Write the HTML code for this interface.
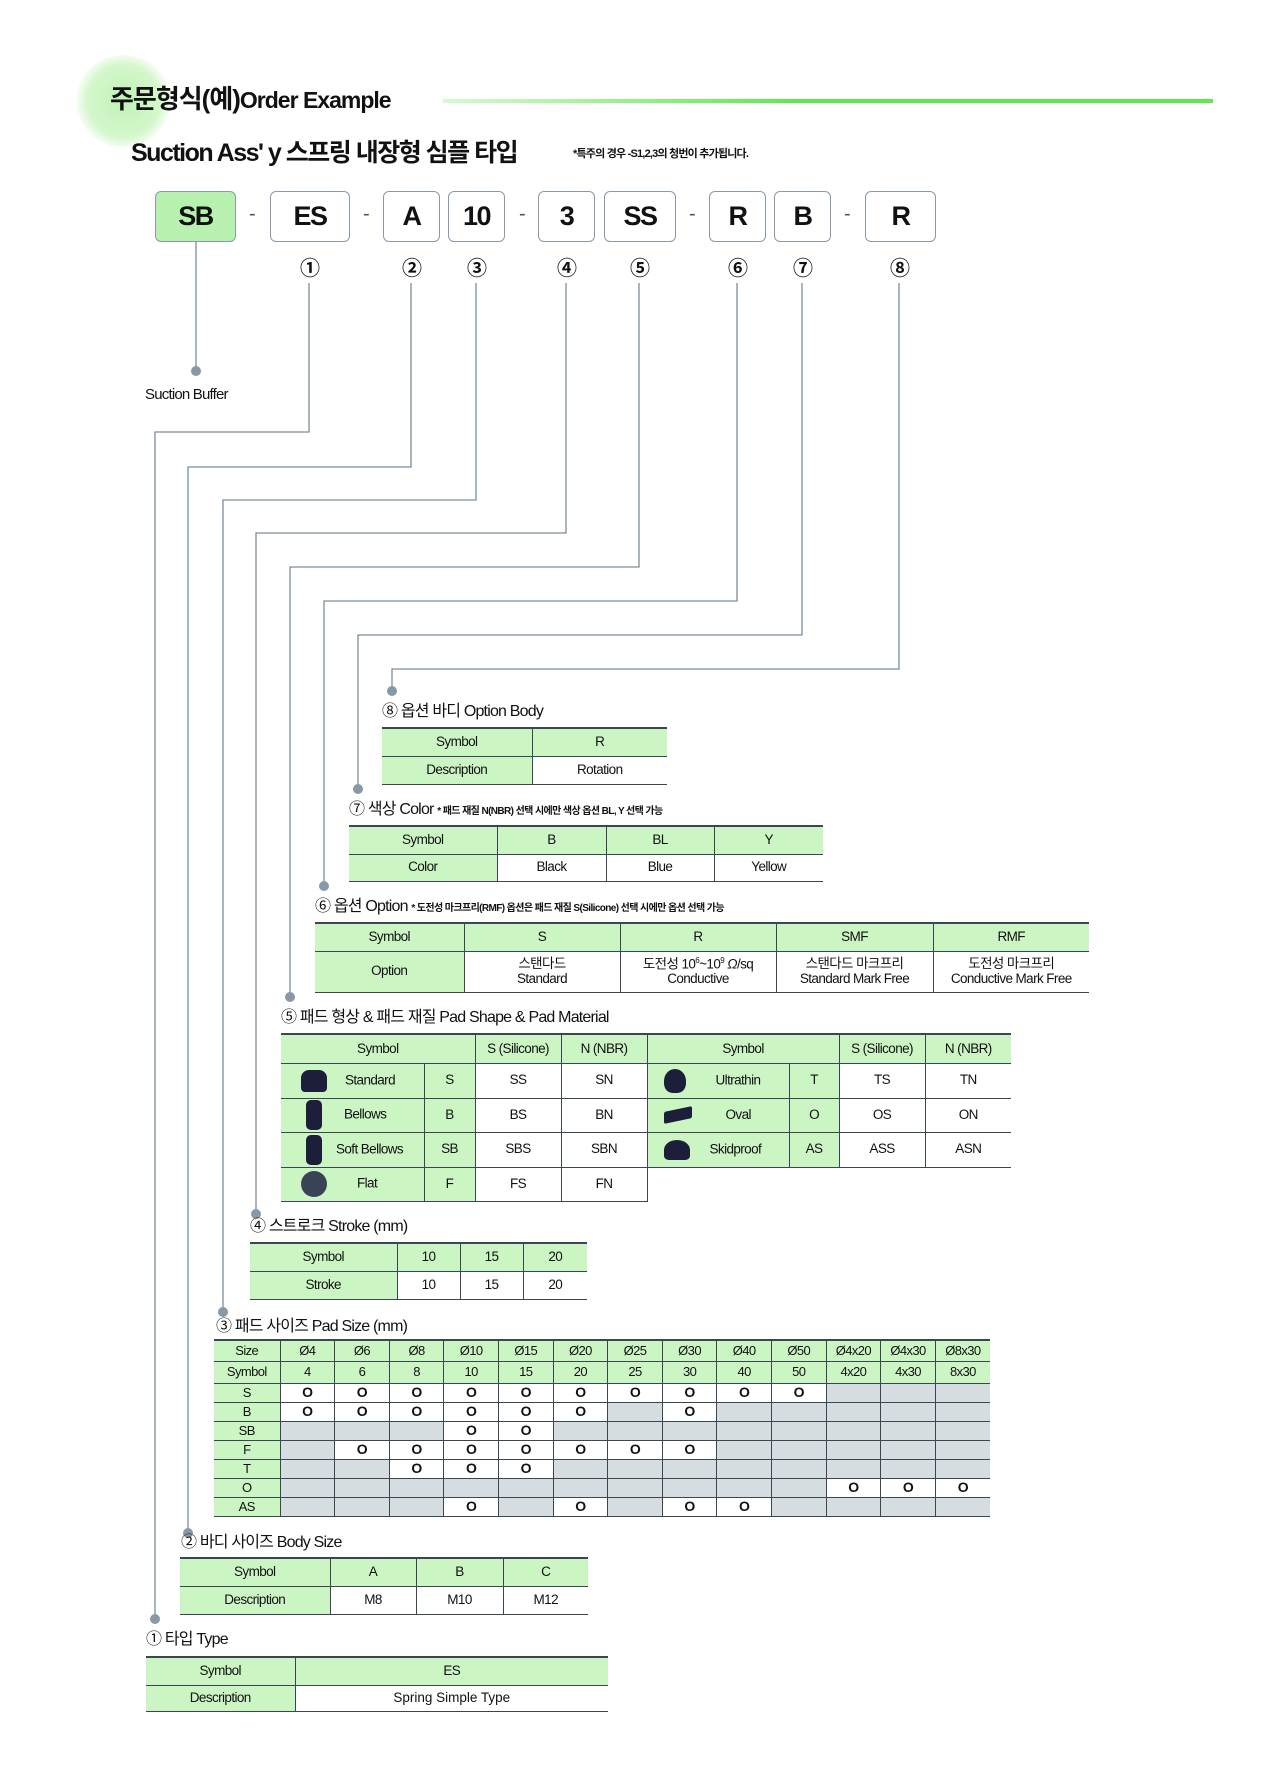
<!DOCTYPE html>
<html><head><meta charset="utf-8">
<style>
*{margin:0;padding:0;box-sizing:border-box}
body{width:1276px;height:1790px;background:#fff;position:relative;overflow:hidden;font-family:"Liberation Sans","Noto Sans CJK KR",sans-serif;color:#111}
.a{position:absolute}
.box{position:absolute;top:191px;height:51px;border:1.5px solid #8a9aa8;border-radius:6px;font-size:27px;font-weight:bold;text-align:center;line-height:48px;letter-spacing:-1.5px;background:#fff}
.dash{position:absolute;top:203px;font-size:20px;color:#555}
.num{position:absolute;top:252px;font-size:20px;font-weight:bold;width:30px;margin-left:-15px;text-align:center}
.ttl{position:absolute;font-size:16px;letter-spacing:-0.8px;white-space:nowrap;line-height:20px}
.ttl small{font-size:10px;letter-spacing:-0.6px;font-weight:bold}
table{position:absolute;border-collapse:collapse;font-size:13.5px;letter-spacing:-0.6px;table-layout:fixed}
td{text-align:center;border-left:1px solid #3c4652;border-bottom:1.5px solid #3c4652;padding:0;line-height:1.05}
td:first-child{border-left:none}
tr:first-child td{border-top:2px solid #3c4652}
.g{background:#ccf5c4}
.x{background:#d5dde1}
#ps td:not(.g){font-weight:bold;font-size:14px}
.ic{display:inline-block;background:#1d1f3a;vertical-align:middle}
</style></head><body>

<!-- header -->
<div class="a" style="left:76px;top:55px;width:95px;height:92px;border-radius:50%;background:radial-gradient(circle,#bff2b6 0%,#d4f7cc 55%,rgba(220,250,215,0) 75%)"></div>
<div class="a" style="left:110px;top:83px;font-size:26px;font-weight:bold;letter-spacing:-1px;line-height:32px">주문형식(예)<span style="font-size:23px">Order Example</span></div>
<div class="a" style="left:443px;top:99px;width:770px;height:4px;background:linear-gradient(90deg,#d8f8d2,#5eea4e 45%,#5eea4e)"></div>
<div class="a" style="left:131px;top:138px;font-size:25px;font-weight:bold;letter-spacing:-1.5px;line-height:30px">Suction Ass' y 스프링 내장형 심플 타입</div>
<div class="a" style="left:573px;top:147px;font-size:11px;font-weight:bold;letter-spacing:-0.8px;line-height:14px">*특주의 경우 -S1,2,3의 청번이 추가됩니다.</div>

<!-- code boxes -->
<div class="box" style="left:155px;width:81px;background:#b8f0b0">SB</div>
<div class="dash" style="left:249px">-</div>
<div class="box" style="left:270px;width:80px">ES</div>
<div class="dash" style="left:363px">-</div>
<div class="box" style="left:383px;width:57px">A</div>
<div class="box" style="left:448px;width:57px">10</div>
<div class="dash" style="left:519px">-</div>
<div class="box" style="left:538px;width:57px">3</div>
<div class="box" style="left:604px;width:72px">SS</div>
<div class="dash" style="left:689px">-</div>
<div class="box" style="left:709px;width:57px">R</div>
<div class="box" style="left:774px;width:57px">B</div>
<div class="dash" style="left:844px">-</div>
<div class="box" style="left:865px;width:71px">R</div>

<div class="num" style="left:310px">①</div>
<div class="num" style="left:412px">②</div>
<div class="num" style="left:477px">③</div>
<div class="num" style="left:567px">④</div>
<div class="num" style="left:640px">⑤</div>
<div class="num" style="left:738px">⑥</div>
<div class="num" style="left:803px">⑦</div>
<div class="num" style="left:900px">⑧</div>

<svg class="a" style="left:0;top:0" width="1276" height="1790">
<g stroke="#7d8d9b" stroke-width="1.3" fill="none">
<path d="M196 242V370"/>
<path d="M309 283V432H155V1618"/>
<path d="M411 283V467H188V1532"/>
<path d="M476 283V500H223V1311"/>
<path d="M566 283V533H256V1213"/>
<path d="M639 283V567H290V996"/>
<path d="M737 283V601H324V885"/>
<path d="M802 283V635H358V788"/>
<path d="M899 283V669H392V690"/>
</g>
<g fill="#8898a6">
<circle cx="196" cy="371" r="5"/>
<circle cx="155" cy="1619" r="5"/>
<circle cx="188" cy="1533" r="5"/>
<circle cx="223" cy="1312" r="5"/>
<circle cx="256" cy="1214" r="5"/>
<circle cx="290" cy="997" r="5"/>
<circle cx="324" cy="886" r="5"/>
<circle cx="358" cy="789" r="5"/>
<circle cx="392" cy="691" r="5"/>
</g>
</svg>
<div class="a" style="left:145px;top:386px;font-size:15px;letter-spacing:-0.8px">Suction Buffer</div>

<!-- 8 -->
<div class="ttl" style="left:382px;top:702px">⑧ 옵션 바디 Option Body</div>
<table style="left:382px;top:727px;width:285px">
<col style="width:150px"><col>
<tr style="height:28px"><td class="g">Symbol</td><td class="g">R</td></tr>
<tr style="height:28px"><td class="g">Description</td><td>Rotation</td></tr>
</table>

<!-- 7 -->
<div class="ttl" style="left:349px;top:800px">⑦ 색상 Color <small>* 패드 재질 N(NBR) 선택 시에만 색상 옵션 BL, Y 선택 가능</small></div>
<table style="left:349px;top:825px;width:474px">
<col style="width:148px"><col style="width:109px"><col style="width:108px"><col>
<tr style="height:28px"><td class="g">Symbol</td><td class="g">B</td><td class="g">BL</td><td class="g">Y</td></tr>
<tr style="height:27px"><td class="g">Color</td><td>Black</td><td>Blue</td><td>Yellow</td></tr>
</table>

<!-- 6 -->
<div class="ttl" style="left:315px;top:897px">⑥ 옵션 Option <small>* 도전성 마크프리(RMF) 옵션은 패드 재질 S(Silicone) 선택 시에만 옵션 선택 가능</small></div>
<table style="left:315px;top:922px;width:774px">
<col style="width:149px"><col style="width:156px"><col style="width:156px"><col style="width:157px"><col>
<tr style="height:28px"><td class="g">Symbol</td><td class="g">S</td><td class="g">R</td><td class="g">SMF</td><td class="g">RMF</td></tr>
<tr style="height:41px"><td class="g">Option</td><td>스탠다드<br>Standard</td><td>도전성 10<sup style="font-size:8px">6</sup>~10<sup style="font-size:8px">9</sup> <i>Ω</i>/sq<br>Conductive</td><td>스탠다드 마크프리<br>Standard Mark Free</td><td>도전성 마크프리<br>Conductive Mark Free</td></tr>
</table>

<!-- 5 -->
<div class="ttl" style="left:281px;top:1008px">⑤ 패드 형상 &amp; 패드 재질 Pad Shape &amp; Pad Material</div>
<table style="left:281px;top:1033px;width:730px">
<col style="width:143px"><col style="width:51px"><col style="width:86px"><col style="width:86px"><col style="width:142px"><col style="width:50px"><col style="width:86px"><col style="width:86px">
<tr style="height:29px"><td class="g" colspan="2">Symbol</td><td class="g">S (Silicone)</td><td class="g">N (NBR)</td><td class="g" colspan="2">Symbol</td><td class="g">S (Silicone)</td><td class="g">N (NBR)</td></tr>
<tr style="height:35px"><td class="g" style="text-align:left"><span class="ic" style="width:26px;height:22px;border-radius:8px 8px 4px 4px;margin:0 18px 0 20px"></span>Standard</td><td class="g">S</td><td>SS</td><td>SN</td>
<td class="g" style="text-align:left"><span class="ic" style="width:22px;height:24px;border-radius:50% 50% 40% 40%;margin:0 30px 0 16px"></span>Ultrathin</td><td class="g">T</td><td>TS</td><td>TN</td></tr>
<tr style="height:34px"><td class="g" style="text-align:left"><span class="ic" style="width:16px;height:30px;border-radius:5px;margin:0 22px 0 25px"></span>Bellows</td><td class="g">B</td><td>BS</td><td>BN</td>
<td class="g" style="text-align:left"><span class="ic" style="width:28px;height:12px;border-radius:2px;transform:skewY(-12deg);margin:0 34px 0 16px"></span>Oval</td><td class="g">O</td><td>OS</td><td>ON</td></tr>
<tr style="height:35px"><td class="g" style="text-align:left"><span class="ic" style="width:16px;height:30px;border-radius:5px;margin:0 14px 0 25px"></span>Soft Bellows</td><td class="g">SB</td><td>SBS</td><td>SBN</td>
<td class="g" style="text-align:left"><span class="ic" style="width:26px;height:20px;border-radius:50% 50% 20% 20%;margin:0 20px 0 16px"></span>Skidproof</td><td class="g">AS</td><td>ASS</td><td>ASN</td></tr>
<tr style="height:34px"><td class="g" style="text-align:left"><span class="ic" style="width:26px;height:26px;border-radius:50%;background:#3a4356;margin:0 30px 0 20px"></span>Flat</td><td class="g">F</td><td>FS</td><td>FN</td>
<td style="border:none;border-left:1px solid #3c4652"></td><td style="border:none"></td><td style="border:none"></td><td style="border:none"></td></tr>
</table>

<!-- 4 -->
<div class="ttl" style="left:250px;top:1217px">④ 스트로크 Stroke (mm)</div>
<table style="left:250px;top:1242px;width:337px">
<col style="width:147px"><col style="width:63px"><col style="width:63px"><col>
<tr style="height:28px"><td class="g">Symbol</td><td class="g">10</td><td class="g">15</td><td class="g">20</td></tr>
<tr style="height:28px"><td class="g">Stroke</td><td>10</td><td>15</td><td>20</td></tr>
</table>

<!-- 3 -->
<div class="ttl" style="left:216px;top:1317px">③ 패드 사이즈 Pad Size (mm)</div>
<table id="ps" style="left:214px;top:1339px;width:776px;font-size:13px">
<col style="width:66px">
<tr style="height:21px"><td class="g">Size</td><td class="g">Ø4</td><td class="g">Ø6</td><td class="g">Ø8</td><td class="g">Ø10</td><td class="g">Ø15</td><td class="g">Ø20</td><td class="g">Ø25</td><td class="g">Ø30</td><td class="g">Ø40</td><td class="g">Ø50</td><td class="g">Ø4x20</td><td class="g">Ø4x30</td><td class="g">Ø8x30</td></tr>
<tr style="height:22px"><td class="g">Symbol</td><td class="g">4</td><td class="g">6</td><td class="g">8</td><td class="g">10</td><td class="g">15</td><td class="g">20</td><td class="g">25</td><td class="g">30</td><td class="g">40</td><td class="g">50</td><td class="g">4x20</td><td class="g">4x30</td><td class="g">8x30</td></tr>
<tr style="height:19px"><td class="g">S</td><td>O</td><td>O</td><td>O</td><td>O</td><td>O</td><td>O</td><td>O</td><td>O</td><td>O</td><td>O</td><td class="x"></td><td class="x"></td><td class="x"></td></tr>
<tr style="height:19px"><td class="g">B</td><td>O</td><td>O</td><td>O</td><td>O</td><td>O</td><td>O</td><td class="x"></td><td>O</td><td class="x"></td><td class="x"></td><td class="x"></td><td class="x"></td><td class="x"></td></tr>
<tr style="height:19px"><td class="g">SB</td><td class="x"></td><td class="x"></td><td class="x"></td><td>O</td><td>O</td><td class="x"></td><td class="x"></td><td class="x"></td><td class="x"></td><td class="x"></td><td class="x"></td><td class="x"></td><td class="x"></td></tr>
<tr style="height:19px"><td class="g">F</td><td class="x"></td><td>O</td><td>O</td><td>O</td><td>O</td><td>O</td><td>O</td><td>O</td><td class="x"></td><td class="x"></td><td class="x"></td><td class="x"></td><td class="x"></td></tr>
<tr style="height:19px"><td class="g">T</td><td class="x"></td><td class="x"></td><td>O</td><td>O</td><td>O</td><td class="x"></td><td class="x"></td><td class="x"></td><td class="x"></td><td class="x"></td><td class="x"></td><td class="x"></td><td class="x"></td></tr>
<tr style="height:19px"><td class="g">O</td><td class="x"></td><td class="x"></td><td class="x"></td><td class="x"></td><td class="x"></td><td class="x"></td><td class="x"></td><td class="x"></td><td class="x"></td><td class="x"></td><td>O</td><td>O</td><td>O</td></tr>
<tr style="height:19px"><td class="g">AS</td><td class="x"></td><td class="x"></td><td class="x"></td><td>O</td><td class="x"></td><td>O</td><td class="x"></td><td>O</td><td>O</td><td class="x"></td><td class="x"></td><td class="x"></td><td class="x"></td></tr>
</table>

<!-- 2 -->
<div class="ttl" style="left:181px;top:1533px">② 바디 사이즈 Body Size</div>
<table style="left:180px;top:1557px;width:408px">
<col style="width:150px"><col style="width:86px"><col style="width:87px"><col>
<tr style="height:28px"><td class="g">Symbol</td><td class="g">A</td><td class="g">B</td><td class="g">C</td></tr>
<tr style="height:28px"><td class="g">Description</td><td>M8</td><td>M10</td><td>M12</td></tr>
</table>

<!-- 1 -->
<div class="ttl" style="left:146px;top:1630px">① 타입 Type</div>
<table style="left:146px;top:1656px;width:462px">
<col style="width:149px"><col>
<tr style="height:28px"><td class="g">Symbol</td><td class="g">ES</td></tr>
<tr style="height:26px"><td class="g">Description</td><td style="letter-spacing:0">Spring Simple Type</td></tr>
</table>

</body></html>
